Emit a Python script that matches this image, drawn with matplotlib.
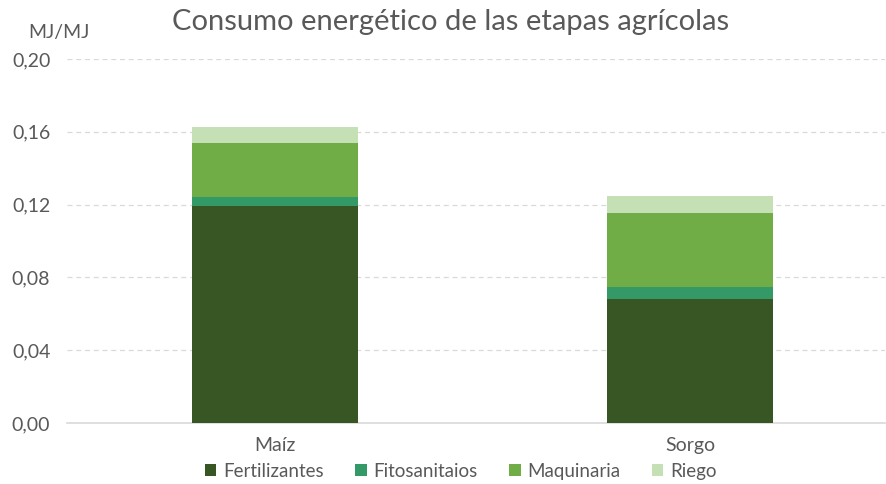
import matplotlib.pyplot as plt
from matplotlib.ticker import FuncFormatter

cultivos = ["Maíz", "Sorgo"]
etapas = ["Fertilizantes", "Fitosanitaios", "Maquinaria", "Riego"]
fertilizantes = [0.1192, 0.0681]
fitosanitarios = [0.0051, 0.0066]
maquinaria = [0.0293, 0.0407]
riego = [0.0091, 0.0093]

colores = ["#375623", "#339966", "#70ad47", "#c5e0b4"]

plt.rcParams['font.family'] = ['Lato', 'DejaVu Sans']

fig = plt.figure(figsize=(8.86, 4.84), dpi=100)
ax = fig.add_axes([0.0756, 0.126, 0.9234, 0.752])

x = list(range(len(cultivos)))
base = [0.0] * len(cultivos)
for serie, nombre, color in zip([fertilizantes, fitosanitarios, maquinaria, riego], etapas, colores):
	ax.bar(x, serie, width=0.40, bottom=base, color=color, label=nombre, zorder=3)
	base = [b + v for b, v in zip(base, serie)]

ax.set_xlim(-0.5, 1.47)
ax.set_ylim(0, 0.20)
ax.set_yticks([0, 0.04, 0.08, 0.12, 0.16, 0.20])
ax.yaxis.set_major_formatter(FuncFormatter(lambda v, p: f"{v:.2f}".replace(".", ",")))
ax.set_xticks(x)
ax.set_xticklabels(cultivos)
ax.tick_params(axis='both', length=0, labelsize=14, colors="#595959")
ax.tick_params(axis='y', pad=12)
ax.tick_params(axis='x', pad=10)
ax.grid(axis='y', color="#d9d9d9", linestyle=(0, (4, 3)), linewidth=0.9, zorder=0)
for s in ["top", "right", "left"]:
	ax.spines[s].set_visible(False)
ax.spines["bottom"].set_color("#d9d9d9")
ax.spines["bottom"].set_linewidth(1.2)

fig.text(0.509, 0.955, "Consumo energético de las etapas agrícolas", ha="center", va="center",
	fontsize=21, color="#595959")
fig.text(0.066, 0.932, "MJ/MJ", ha="center", va="center", fontsize=14, color="#595959")

fig.legend(loc="center", bbox_to_anchor=(0.52, 0.026), ncol=4, frameon=False,
	fontsize=13.5, labelcolor="#595959", handlelength=0.6, handleheight=0.6,
	handletextpad=0.35, columnspacing=1.7)

fig.savefig("out.png", dpi=100)
